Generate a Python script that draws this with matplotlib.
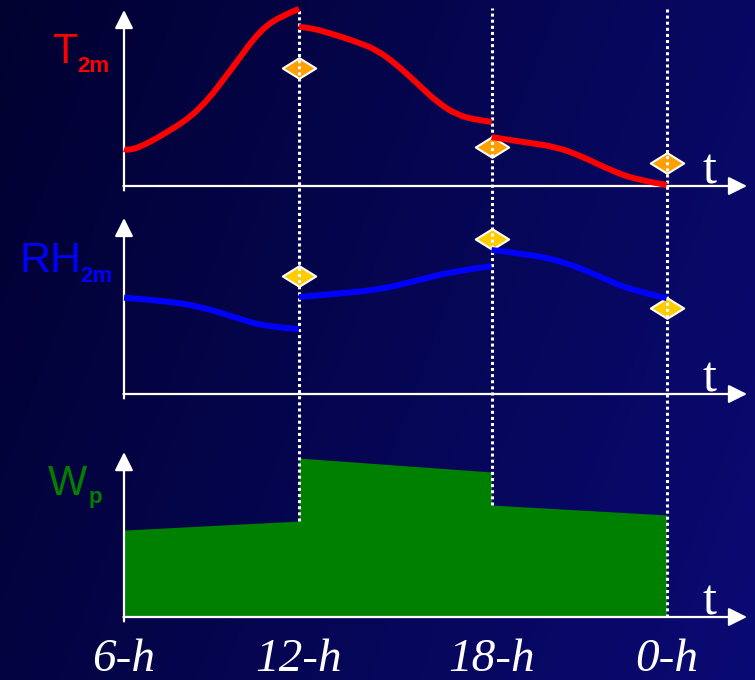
import numpy as np
import matplotlib
matplotlib.use("Agg")
import matplotlib.pyplot as plt
from matplotlib.path import Path
from matplotlib.patches import PathPatch

# time axis: hours after the 6-h analysis
t_nodes = [0.0, 6.0, 12.6, 18.6]
t_labels = ["6-h", "12-h", "18-h", "0-h"]

# T2m curve, three forecast pieces
t2m_t = [[0, 0.21, 1.47, 2.61, 3.74, 4.66, 5.45, 6.0],
         [6.0, 6.27, 7.06, 7.99, 8.67, 9.36, 10.04, 10.73, 11.42, 12.10, 12.6],
         [12.6, 13.68, 14.84, 15.74, 16.66, 17.59, 18.6]]
t2m_v = [[21.0, 19.3, 30.1, 43.2, 67.6, 88.6, 97.2, 100.6],
         [90.3, 90.3, 86.9, 81.8, 77.3, 68.8, 58.5, 47.7, 40.3, 37.5, 36.4],
         [27.8, 25.0, 22.2, 16.5, 9.1, 3.4, 0.6]]
t2m_obs = [67.0, 22.2, 13.1]

# RH2m curve
rh_t = [[0, 1.39, 2.64, 3.87, 4.87, 6.0],
        [6.0, 7.61, 8.88, 10.11, 11.35, 12.6],
        [12.6, 13.85, 15.12, 16.35, 17.35, 18.6]]
rh_v = [[54.7, 53.0, 49.6, 43.2, 38.2, 36.9],
        [55.1, 57.4, 59.7, 64.8, 69.9, 72.7],
        [81.8, 79.5, 75.0, 66.5, 59.1, 54.5]]
rh_obs = [67.0, 88.1, 48.9]

# Wp (piecewise linear, jumps at analyses)
wp_t = [0.0, 6.0, 6.0, 12.6, 12.6, 18.6]
wp_v = [49.4, 54.5, 90.3, 82.4, 63.6, 58.0]

# layout: px per hour / px per unit, panel baselines (px from top)
PXH = 29.17
PXU = 1.76
base_t2m, base_rh, base_wp = 186, 394, 617
off_t2m = (base_wp - base_t2m) / PXU
off_rh = (base_wp - base_rh) / PXU
off_wp = 0.0


def smooth_line(ax, xs, ys, color):
    # quadratic bezier through midpoints, read points as control points
    pts = list(zip(xs, ys))
    verts = [pts[0]]
    codes = [Path.MOVETO]
    for i in range(1, len(pts) - 1):
        mid = ((pts[i][0] + pts[i + 1][0]) / 2, (pts[i][1] + pts[i + 1][1]) / 2)
        if i == len(pts) - 2:
            mid = pts[-1]
        verts += [pts[i], mid]
        codes += [Path.CURVE3, Path.CURVE3]
    if len(pts) == 2:
        verts.append(pts[1])
        codes.append(Path.LINETO)
    ax.add_patch(PathPatch(Path(verts, codes), fill=False, ec=color, lw=4.3,
                           capstyle="butt", joinstyle="round", zorder=5))


fig = plt.figure(figsize=(7.55, 6.8), dpi=100)
ax = fig.add_axes([0, 0, 1, 1])
xlim = (-124 / PXH, 631 / PXH)
ylim = (-(680 - base_wp) / PXU, base_wp / PXU)

# background gradient
gx, gy = np.meshgrid(np.linspace(0, 1, 200), np.linspace(0, 1, 200))
f = 0.75 * gx + 0.25 * (1 - gy)
c0 = np.array([1, 1, 48]) / 255
c1 = np.array([10, 10, 116]) / 255
grad = c0 + (c1 - c0) * f[..., None]
ax.imshow(grad, extent=(xlim[0], xlim[1], ylim[1], ylim[0]), aspect="auto", zorder=0)
ax.set_xlim(*xlim)
ax.set_ylim(*ylim)
ax.axis("off")

x_tip = (747 - 124) / PXH
arrow = dict(arrowstyle="-|>,head_length=0.8,head_width=0.4", mutation_scale=14,
             color="white", lw=1.6, shrinkA=0, shrinkB=0)
for off, top in [(off_t2m, 100), (off_rh, 100), (off_wp, 93.7)]:
    ax.annotate("", xy=(x_tip, off), xytext=(-0.02, off), arrowprops=arrow, zorder=2)
    ax.annotate("", xy=(0, off + top), xytext=(0, off - 2.5), arrowprops=arrow, zorder=2)
    ax.text((709 - 124) / PXH, off + 1.5, "t", color="white", fontsize=36,
            family="Liberation Serif", ha="center", va="baseline", zorder=6)

# Wp area
ax.fill_between(wp_t, off_wp, [off_wp + v for v in wp_v], color="#008000", lw=0, zorder=1)

# curves
for tt, vv in zip(t2m_t, t2m_v):
    smooth_line(ax, tt, [off_t2m + v for v in vv], "#ff0000")
for tt, vv in zip(rh_t, rh_v):
    smooth_line(ax, tt, [off_rh + v for v in vv], "#0000ff")

# observations (diamonds)
diamond = Path([(-1, 0), (0, 0.62), (1, 0), (0, -0.62), (-1, 0)],
               [Path.MOVETO, Path.LINETO, Path.LINETO, Path.LINETO, Path.CLOSEPOLY])
ax.plot(t_nodes[1:], [off_t2m + v for v in t2m_obs], ls="none", marker=diamond, ms=24,
        mfc="#ffa000", mec="white", mew=1.5, zorder=3)
ax.plot(t_nodes[1:], [off_rh + v for v in rh_obs], ls="none", marker=diamond, ms=24,
        mfc="#ffcc00", mec="white", mew=1.5, zorder=3)

# dotted analysis lines
top_line = off_t2m + 101
ends = [wp_v[1], wp_v[4], 0.0]
for tx, lo in zip(t_nodes[1:], ends):
    ax.plot([tx, tx], [off_wp + lo, top_line], color="white", lw=2.2,
            ls=(0, (1, 1)), zorder=4)

# variable names
ax.text(-2.47, off_t2m + 70, "T", color="#ff0000", fontsize=30, family="Liberation Sans",
        va="baseline", ha="left")
ax.text(-1.61, off_t2m + 64.5, "2m", color="#ff0000", fontsize=16, family="Liberation Sans",
        weight="bold", va="baseline", ha="left")
ax.text(-3.57, off_rh + 69.3, "RH", color="#0000ff", fontsize=31, family="Liberation Sans",
        va="baseline", ha="left")
ax.text(-1.51, off_rh + 63.6, "2m", color="#0000ff", fontsize=16, family="Liberation Sans",
        weight="bold", va="baseline", ha="left")
ax.text(-2.61, off_wp + 69.3, "W", color="#008000", fontsize=30, family="Liberation Sans",
        va="baseline", ha="left")
ax.text(-1.2, off_wp + 64.8, "p", color="#008000", fontsize=16, family="Liberation Sans",
        weight="bold", va="baseline", ha="left")

# time labels
for tx, lab in zip(t_nodes, t_labels):
    ax.text(tx, -30.5, lab, color="white", fontsize=34, family="Liberation Serif",
            style="italic", ha="center", va="baseline")

fig.savefig("out.png", dpi=100)
